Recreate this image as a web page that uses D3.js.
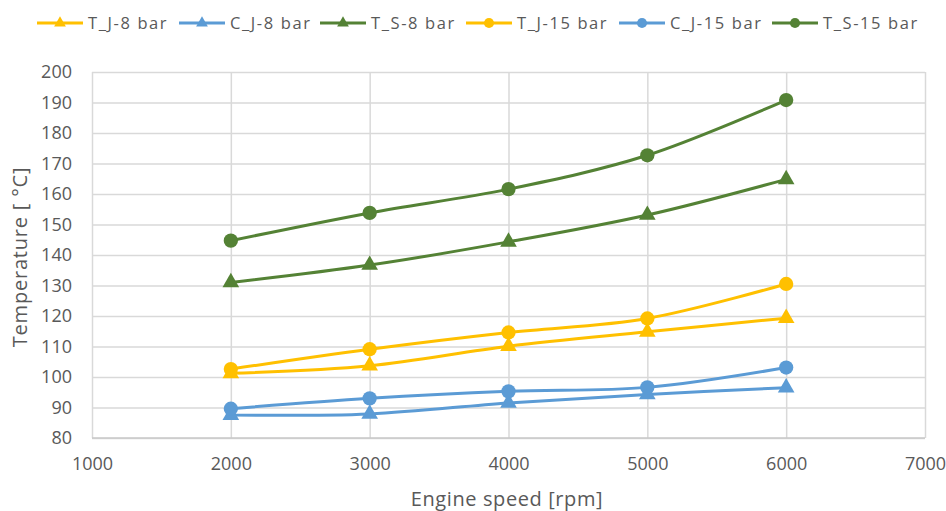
<!DOCTYPE html>
<html>
<head>
<meta charset="utf-8">
<script src="https://cdn.jsdelivr.net/npm/d3@7"></script>
<style>
  body { margin: 0; background: #fff; }
  text { font-family: "Open Sans", sans-serif; fill: #595959; }
</style>
</head>
<body>
<div id="chart"></div>
<script>
// Data
const speeds = [2000, 3000, 4000, 5000, 6000];
const xTicks = [1000, 2000, 3000, 4000, 5000, 6000, 7000];
const yTicks = [80, 90, 100, 110, 120, 130, 140, 150, 160, 170, 180, 190, 200];
const seriesNames = ["T_J-8 bar", "C_J-8 bar", "T_S-8 bar", "T_J-15 bar", "C_J-15 bar", "T_S-15 bar"];
const tJ8 = [101.2, 103.7, 110.1, 114.8, 119.3];
const cJ8 = [87.5, 87.9, 91.5, 94.3, 96.5];
const tS8 = [131.0, 136.7, 144.3, 153.1, 164.8];
const tJ15 = [102.6, 109.1, 114.6, 119.2, 130.5];
const cJ15 = [89.6, 93.0, 95.3, 96.6, 103.1];
const tS15 = [144.7, 153.8, 161.6, 172.7, 190.8];

const colors = ["#FFC000", "#5B9BD5", "#548235", "#FFC000", "#5B9BD5", "#548235"];
const markers = ["tri", "tri", "tri", "dot", "dot", "dot"];
const values = [tJ8, cJ8, tS8, tJ15, cJ15, tS15];

const series = seriesNames.map((name, i) => ({
  name: name,
  color: colors[i],
  marker: markers[i],
  points: speeds.map((s, j) => ({ x: s, y: values[i][j] }))
}));

const W = 946, H = 511;
const margin = { top: 72, right: 21, bottom: 73, left: 92 };
const width = W - margin.left - margin.right;
const height = H - margin.top - margin.bottom;

const svg = d3.select("#chart")
  .append("svg")
  .attr("width", W)
  .attr("height", H);

const g = svg.append("g")
  .attr("transform", "translate(" + margin.left + "," + margin.top + ")");

const x = d3.scaleLinear().domain([1000, 7000]).range([0, width]);
const y = d3.scaleLinear().domain([80, 200]).range([height, 0]);

// grid lines
g.append("g")
  .call(d3.axisLeft(y).tickValues(yTicks).tickSize(-width).tickFormat(""))
  .call(a => a.select(".domain").remove())
  .selectAll("line")
  .attr("stroke", "#d9d9d9")
  .attr("stroke-width", 1.5);

g.append("g")
  .attr("transform", "translate(0," + height + ")")
  .call(d3.axisBottom(x).tickValues(xTicks).tickSize(-height).tickFormat(""))
  .call(a => a.select(".domain").remove())
  .selectAll("line")
  .attr("stroke", "#d9d9d9")
  .attr("stroke-width", 1.5);

// bottom axis line
g.append("line")
  .attr("x1", 0).attr("x2", width)
  .attr("y1", height).attr("y2", height)
  .attr("stroke", "#c8c8c8")
  .attr("stroke-width", 1.5);

// tick labels
const yAxis = g.append("g")
  .call(d3.axisLeft(y).tickValues(yTicks).tickSize(0).tickPadding(20));
yAxis.select(".domain").remove();
yAxis.selectAll("text")
  .style("font-size", "18px")
  .attr("fill", "#595959");

const xAxis = g.append("g")
  .attr("transform", "translate(0," + height + ")")
  .call(d3.axisBottom(x).tickValues(xTicks).tickSize(0).tickPadding(19).tickFormat(d3.format("d")));
xAxis.select(".domain").remove();
xAxis.selectAll("text")
  .style("font-size", "18px")
  .attr("fill", "#595959");

// axis titles
svg.append("text")
  .attr("x", 507)
  .attr("y", 506)
  .attr("text-anchor", "middle")
  .style("font-size", "20px")
  .style("letter-spacing", "0.6px")
  .text("Engine speed [rpm]");

svg.append("text")
  .attr("transform", "translate(27," + (margin.top + height / 2 + 2) + ") rotate(-90)")
  .attr("text-anchor", "middle")
  .style("font-size", "20px")
  .style("letter-spacing", "0.8px")
  .text("Temperature [ °C]");

// lines
const line = d3.line()
  .x(d => x(d.x))
  .y(d => y(d.y))
  .curve(d3.curveCatmullRom.alpha(0.5));

const triangle = d3.symbol().type(d3.symbolTriangle);
const circle = d3.symbol().type(d3.symbolCircle);

function drawMarker(sel, s, size) {
  if (s.marker === "tri") {
    sel.append("path")
      .attr("d", triangle.size(size * 0.75)())
      .attr("fill", s.color);
  } else {
    sel.append("path")
      .attr("d", circle.size(size)())
      .attr("fill", s.color);
  }
}

series.forEach(s => {
  g.append("path")
    .datum(s.points)
    .attr("fill", "none")
    .attr("stroke", s.color)
    .attr("stroke-width", 3)
    .attr("d", line);

  g.selectAll(null)
    .data(s.points)
    .join("g")
    .attr("transform", d => "translate(" + x(d.x) + "," + y(d.y) + ")")
    .each(function () { drawMarker(d3.select(this), s, 160); });
});

// legend
const legendX = [37, 179, 320, 466, 619, 772];
const legend = svg.append("g");
series.forEach((s, i) => {
  const item = legend.append("g")
    .attr("transform", "translate(" + legendX[i] + ",23)");
  item.append("line")
    .attr("x1", 0).attr("x2", 46)
    .attr("stroke", s.color)
    .attr("stroke-width", 3);
  const m = item.append("g").attr("transform", "translate(23,0)");
  drawMarker(m, s, 80);
  item.append("text")
    .attr("x", 51)
    .attr("dy", "0.35em")
    .style("font-size", "16.5px")
    .style("letter-spacing", "1.6px")
    .text(s.name);
});
</script>
</body>
</html>
